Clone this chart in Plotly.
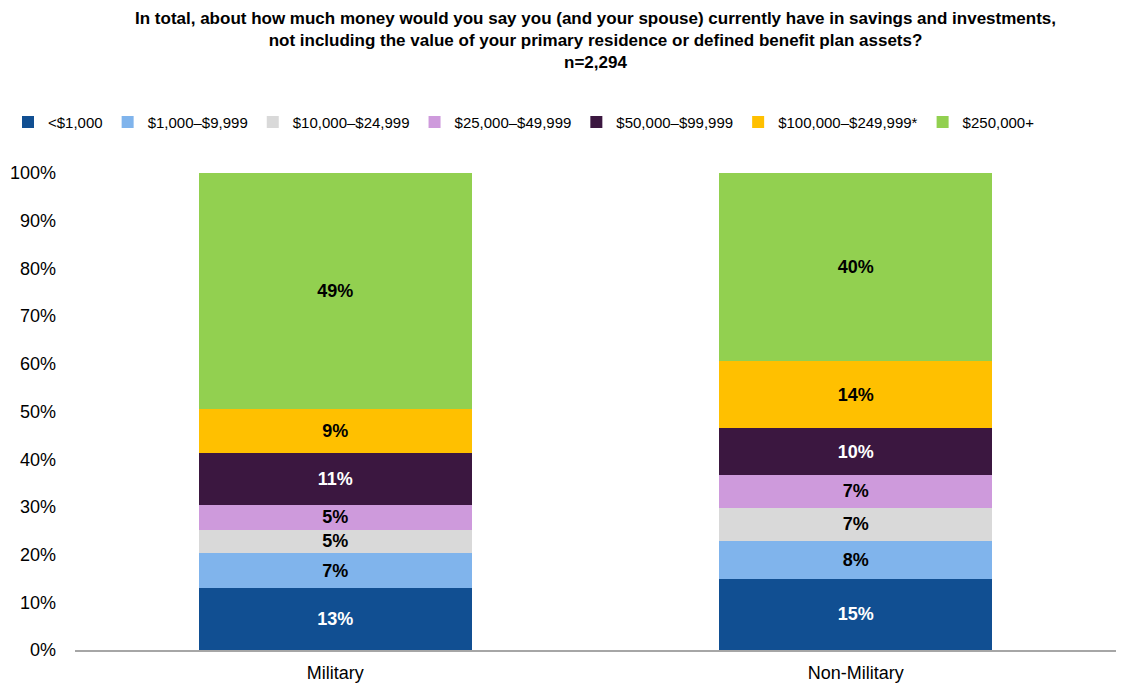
import plotly.graph_objects as go

# groups on the x axis
groups = ["Military", "Non-Military"]

# savings brackets (legend order, bottom to top)
brackets = ["<$1,000", "$1,000–$9,999", "$10,000–$24,999", "$25,000–$49,999",
            "$50,000–$99,999", "$100,000–$249,999*", "$250,000+"]

# share of respondents per bracket (%)
military = [13.0, 7.3, 4.9, 5.2, 10.9, 9.2, 49.5]
non_military = [14.9, 8.0, 6.9, 6.9, 9.8, 14.1, 39.4]

# printed labels (rounded in the source)
military_labels = ["13%", "7%", "5%", "5%", "11%", "9%", "49%"]
non_military_labels = ["15%", "8%", "7%", "7%", "10%", "14%", "40%"]

y_ticks = [0, 10, 20, 30, 40, 50, 60, 70, 80, 90, 100]
y_tick_labels = [f"{v}%" for v in y_ticks]

colors = ["#114F92", "#80B4EC", "#D9D9D9", "#CE9ADC", "#3B1740", "#FFC000", "#92D050"]
label_colors = ["white", "black", "black", "black", "white", "black", "black"]

fig = go.Figure()
for i, name in enumerate(brackets):
    fig.add_trace(go.Bar(
        x=groups,
        y=[military[i], non_military[i]],
        name=name,
        text=[military_labels[i], non_military_labels[i]],
        textposition="inside",
        insidetextanchor="middle",
        textangle=0,
        constraintext="none",
        textfont=dict(family="Arial, Liberation Sans", size=18, color=label_colors[i], weight="bold"),
        marker=dict(color=colors[i], line=dict(width=0)),
        width=0.524,
        hoverinfo="name+y",
    ))

# the page body has an 8px margin, so the figure is drawn 8px smaller and
# the margins are trimmed to keep the plot area where the reference has it
fig.update_layout(
    barmode="stack",
    width=1126, height=676,
    plot_bgcolor="white", paper_bgcolor="white",
    font=dict(family="Arial, Liberation Sans", size=17, color="#000000"),
    title=dict(
        text="<b>In total, about how much money would you say you (and your spouse) currently have in savings and investments,<br>"
             "not including the value of your primary residence or defined benefit plan assets?<br>n=2,294</b>",
        x=0.5, xanchor="center", xref="paper", y=0.976, yanchor="top",
        font=dict(size=17, color="#000000"),
    ),
    legend=dict(
        orientation="h", xref="container", x=0.0, xanchor="left",
        yref="container", y=0.831, yanchor="middle",
        font=dict(size=15), traceorder="normal",
        itemwidth=30, itemsizing="constant", tracegroupgap=0,
    ),
    margin=dict(l=67, r=18, t=165, b=34, autoexpand=False),
    xaxis=dict(
        showline=True, linecolor="#A6A6A6", linewidth=2,
        ticks="", showgrid=False, tickfont=dict(size=18),
        ticklabelstandoff=5,
    ),
    yaxis=dict(
        range=[0, 100], tickvals=y_ticks, ticktext=y_tick_labels,
        showgrid=False, showline=False, zeroline=False,
        tickfont=dict(size=18), ticklabelstandoff=18,
    ),
    bargap=0.476,
)

fig.write_html("out.html")
